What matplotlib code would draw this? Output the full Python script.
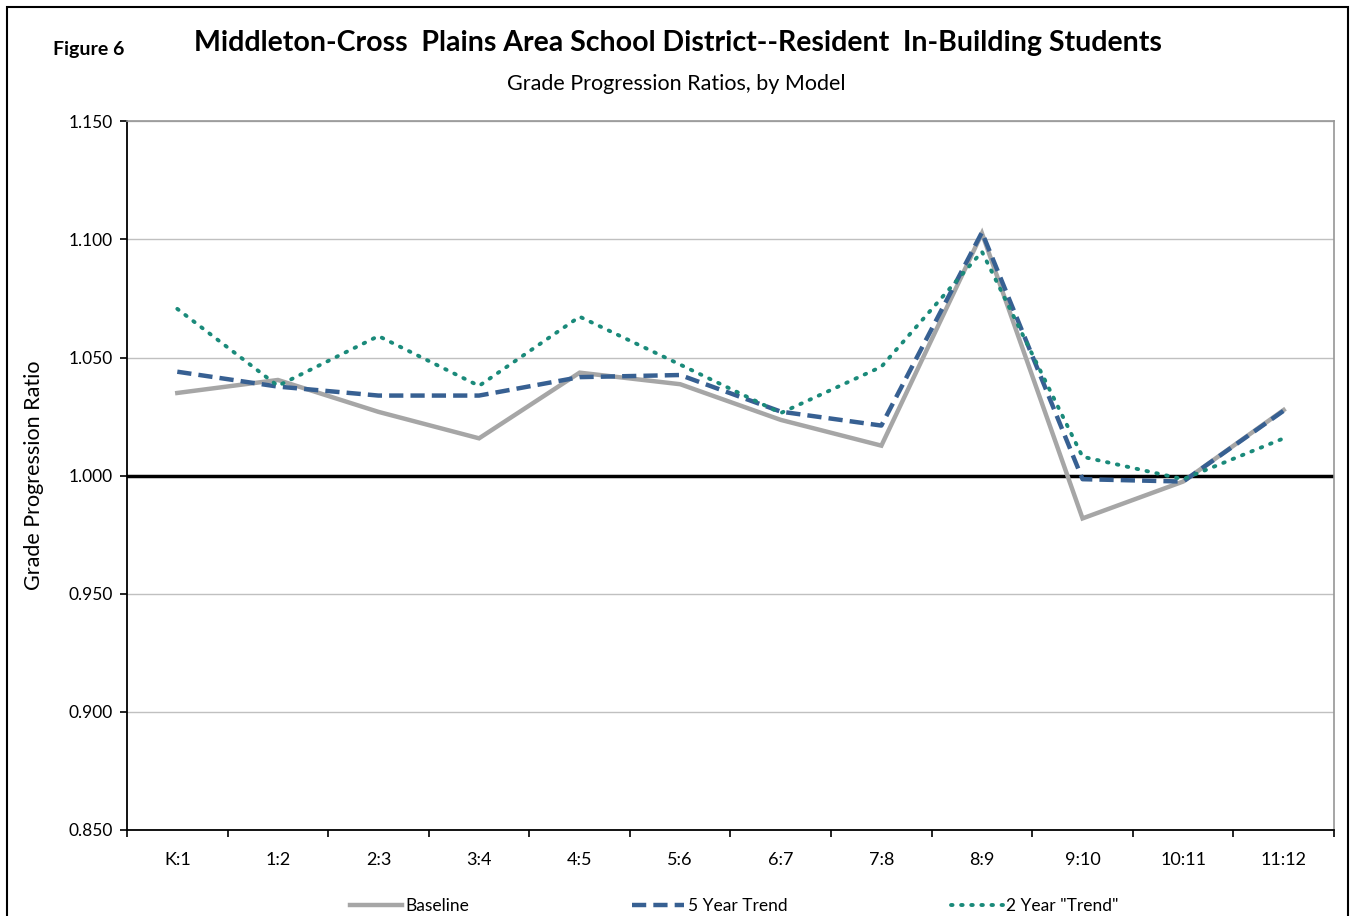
import matplotlib
matplotlib.use("Agg")
import matplotlib.pyplot as plt
from matplotlib.patches import Rectangle

plt.rcParams['font.family'] = ['Lato', 'DejaVu Sans']

categories = ["K:1", "1:2", "2:3", "3:4", "4:5", "5:6", "6:7", "7:8", "8:9", "9:10", "10:11", "11:12"]
baseline = [1.035, 1.0405, 1.027, 1.0158, 1.0436, 1.0387, 1.0236, 1.0127, 1.1026, 0.9819, 0.9975, 1.0278]
trend5 = [1.044, 1.0377, 1.0339, 1.0339, 1.0417, 1.0426, 1.0271, 1.0212, 1.103, 0.9985, 0.9975, 1.0275]
trend2 = [1.0706, 1.038, 1.0591, 1.038, 1.0673, 1.047, 1.0265, 1.0461, 1.0948, 1.008, 0.9985, 1.0158]
yticks = [0.85, 0.90, 0.95, 1.00, 1.05, 1.10, 1.15]

W, H = 1351, 916
fig = plt.figure(figsize=(W / 100, H / 100), dpi=100)
ax = fig.add_axes([127 / W, 1 - 830 / H, (1334 - 127) / W, (830 - 121.3) / H])

x = list(range(len(categories)))
ax.set_xlim(-0.5, len(categories) - 0.5)
ax.set_ylim(0.85, 1.15)

for yv in yticks:
    ax.axhline(yv, color='#C0C0C0', lw=1.0, zorder=1)
ax.axhline(1.0, color='black', lw=2.5, zorder=2)

l1, = ax.plot(x, baseline, color='#A6A6A6', lw=3.2, solid_joinstyle='miter', zorder=3, label='Baseline')
l2, = ax.plot(x, trend5, color='#376092', lw=3.2, linestyle=(0, (3.2, 1.6)), zorder=4, label='5 Year Trend')
l3, = ax.plot(x, trend2, color='#1A8A7A', lw=2.8, linestyle=(0, (0.4, 2.2)), dash_capstyle='round', zorder=5, label='2 Year "Trend"')

ax.set_yticks(yticks)
ax.set_yticklabels([f"{v:.3f}" for v in yticks], fontsize=12.5)
ax.set_xticks([i - 0.5 for i in range(len(categories) + 1)])
ax.set_xticklabels([])
ax.set_xticks(x, minor=True)
ax.set_xticklabels(categories, minor=True, fontsize=13)
ax.tick_params(axis='x', which='major', length=5, width=1.2, direction='out', color='black')
ax.tick_params(axis='x', which='minor', length=0, pad=16)
ax.tick_params(axis='y', length=5, width=1.2, direction='out', pad=5)

for s in ['left', 'bottom']:
    ax.spines[s].set_color('black')
    ax.spines[s].set_linewidth(1.3)
for s in ['right', 'top']:
    ax.spines[s].set_color('#969696')
    ax.spines[s].set_linewidth(1.2)

ax.set_ylabel("Grade Progression Ratio", fontsize=15.5, labelpad=18)

fig.text(678 / W, 1 - 43 / H, "Middleton-Cross  Plains Area School District--Resident  In-Building Students",
         ha='center', va='center', fontsize=20.5, fontweight='bold')
fig.text(89 / W, 1 - 50 / H, "Figure 6", ha='center', va='center', fontsize=14, fontweight='bold')
fig.text(676 / W, 1 - 84 / H, "Grade Progression Ratios, by Model", ha='center', va='center', fontsize=15.5)

leg = fig.legend(handles=[l1, l2, l3], loc='center', bbox_to_anchor=(0.5435, 1 - 906 / H), ncol=3,
                 frameon=False, fontsize=12.5, handlelength=3.0, handletextpad=0.2, columnspacing=9.4)

fig.patches.append(Rectangle((7 / W, -0.05), (1348 - 7) / W, (H - 7) / H + 0.05,
                             transform=fig.transFigure, fill=False, edgecolor='black', lw=1.5))

fig.savefig("out.png", dpi=100)
